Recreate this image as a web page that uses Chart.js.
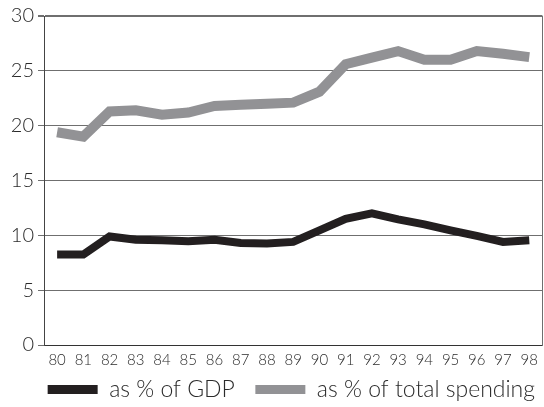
<!DOCTYPE html>
<html>
<head>
<meta charset="utf-8">
<script src="https://cdn.jsdelivr.net/npm/chart.js@4/dist/chart.umd.min.js"></script>
<style>
  html, body { margin: 0; padding: 0; background: #fff; }
  #wrap { width: 544px; height: 407px; position: relative; }
</style>
</head>
<body>
<div id="wrap"><canvas id="chart"></canvas></div>
<script>
// Chart data
const years = ['80', '81', '82', '83', '84', '85', '86', '87', '88', '89',
               '90', '91', '92', '93', '94', '95', '96', '97', '98'];
const pctGdp = [8.25, 8.25, 9.9, 9.6, 9.55, 9.45, 9.6, 9.3, 9.25, 9.4,
                10.45, 11.5, 12.0, 11.45, 11.0, 10.45, 9.95, 9.4, 9.55];
const pctSpending = [19.4, 19.0, 21.3, 21.4, 21.0, 21.2, 21.8, 21.9, 22.0, 22.1,
                     23.1, 25.6, 26.2, 26.8, 26.0, 26.0, 26.8, 26.55, 26.25];
const yTicks = [0, 5, 10, 15, 20, 25, 30];

const FONT = 'Lato, "Open Sans", sans-serif';
const TEXT = '#2b2b2b';
const GRID = '#6f6f6f';

const defaultLabels = Chart.defaults.plugins.legend.labels.generateLabels;

const ctx = document.getElementById('chart');
new Chart(ctx, {
    type: 'line',
    data: {
        labels: years,
        datasets: [
            {
                label: 'as % of GDP',
                data: pctGdp,
                borderColor: '#231f20',
                backgroundColor: '#231f20',
                borderWidth: 8,
                pointRadius: 0,
                tension: 0
            },
            {
                label: 'as % of total spending',
                data: pctSpending,
                borderColor: '#929295',
                backgroundColor: '#929295',
                borderWidth: 10,
                pointRadius: 0,
                tension: 0
            }
        ]
    },
    options: {
        responsive: true,
        maintainAspectRatio: false,
        animation: false,
        layout: { padding: { top: 5, right: 1, left: 0, bottom: -4 } },
        scales: {
            x: {
                offset: true,
                afterFit: axis => { axis.height = 25; },
                grid: { display: false, drawTicks: false },
                border: { display: true, color: '#333', width: 1 },
                ticks: {
                    color: TEXT,
                    padding: 6,
                    maxRotation: 0,
                    autoSkip: false,
                    font: { family: FONT, size: 15, weight: 300 }
                }
            },
            y: {
                min: 0,
                max: 30,
                afterFit: axis => { axis.width = 44; },
                afterBuildTicks: axis => { axis.ticks = yTicks.map(v => ({ value: v })); },
                grid: {
                    color: GRID,
                    lineWidth: ctx => ctx.tick && ctx.tick.value === 30 ? 2 : 1,
                    tickLength: 6,
                    drawTicks: true
                },
                border: { display: true, color: '#444', width: 1 },
                ticks: {
                    color: TEXT,
                    padding: 4,
                    font: { family: FONT, size: 20, weight: 300 }
                }
            },
            right: {
                position: 'right',
                min: 0,
                max: 30,
                afterFit: axis => { axis.width = 0; },
                grid: { display: false, drawTicks: false },
                border: { display: true, color: GRID, width: 1 },
                ticks: { display: false }
            }
        },
        plugins: {
            tooltip: { enabled: false },
            legend: {
                position: 'bottom',
                align: 'end',
                labels: {
                    color: TEXT,
                    boxWidth: 50,
                    boxHeight: 9,
                    padding: 8,
                    font: { family: FONT, size: 23, weight: 300 },
                    // flat boxes, wider gap after the first item
                    generateLabels: chart => defaultLabels(chart).map((item, i) => ({
                        ...item,
                        lineWidth: 0,
                        text: i === 0 ? item.text + '  ' : item.text
                    }))
                }
            }
        }
    }
});
</script>
</body>
</html>
